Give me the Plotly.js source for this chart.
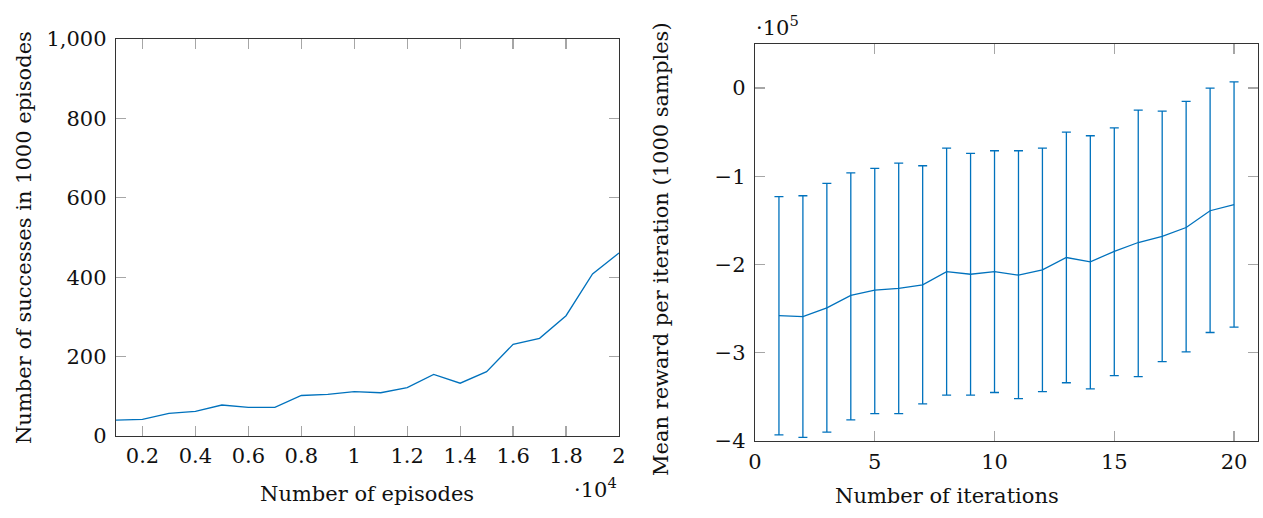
<!DOCTYPE html>
<html>
<head>
<meta charset="utf-8">
<script src="https://cdn.plot.ly/plotly-3.0.1.min.js"></script>
<style>
  html, body { margin: 0; padding: 0; background: #ffffff; }
  #chart { width: 1263px; height: 518px; }
</style>
</head>
<body>
<div id="chart"></div>
<script>
// ---- Left chart data ----
const episodes = [1000, 2000, 3000, 4000, 5000, 6000, 7000, 8000, 9000, 10000,
                  11000, 12000, 13000, 14000, 15000, 16000, 17000, 18000, 19000, 20000];
const successes = [40, 42, 57, 62, 78, 72, 72, 102, 105, 112,
                   109, 122, 155, 133, 162, 231, 246, 303, 408, 461];
const episodeTickVals = [2000, 4000, 6000, 8000, 10000, 12000, 14000, 16000, 18000, 20000];
const episodeTickText = ['0.2', '0.4', '0.6', '0.8', '1', '1.2', '1.4', '1.6', '1.8', '2'];
const successTickVals = [0, 200, 400, 600, 800, 1000];

// ---- Right chart data ----
const iterations = [1, 2, 3, 4, 5, 6, 7, 8, 9, 10, 11, 12, 13, 14, 15, 16, 17, 18, 19, 20];
const meanReward = [-258000, -259000, -249000, -235000, -229000, -227000, -223000, -208000, -211000, -208000,
                    -212000, -206000, -192000, -197000, -185000, -175000, -168000, -158000, -139000, -132000];
const upperReward = [-123000, -122000, -108000, -96000, -91000, -85000, -88000, -68000, -74000, -71000,
                     -71000, -68000, -50000, -54000, -45000, -25000, -26000, -15000, 0, 7000];
const lowerReward = [-393000, -396000, -390000, -376000, -369000, -369000, -358000, -348000, -348000, -345000,
                     -352000, -344000, -334000, -341000, -326000, -327000, -310000, -299000, -277000, -271000];
const rewardTickVals = [-400000, -300000, -200000, -100000, 0];
const rewardTickText = ['\u22124', '\u22123', '\u22122', '\u22121', '0'];
const iterationTickVals = [0, 5, 10, 15, 20];

const W = 1263, H = 518;
const FONT = 'DejaVu Serif, Liberation Serif, serif';
const BLUE = '#0072bd';
const FRAME = '#333333';
const TICK = '#a6a6a6';

const errPlus = upperReward.map((u, i) => u - meanReward[i]);
const errMinus = lowerReward.map((l, i) => meanReward[i] - l);

const traces = [
  {
    x: episodes, y: successes, type: 'scatter', mode: 'lines',
    line: { color: BLUE, width: 1.3 }, xaxis: 'x', yaxis: 'y', hoverinfo: 'skip'
  },
  {
    x: iterations, y: meanReward, type: 'scatter', mode: 'lines',
    line: { color: BLUE, width: 1.3 }, xaxis: 'x2', yaxis: 'y2', hoverinfo: 'skip',
    error_y: { type: 'data', symmetric: false, array: errPlus, arrayminus: errMinus,
               color: BLUE, thickness: 1.3, width: 4.5 }
  }
];

function axisBase() {
  return {
    showgrid: false, zeroline: false, showline: true, linecolor: FRAME, linewidth: 1.3,
    mirror: 'ticks', ticks: 'inside', ticklen: 10, tickwidth: 1.3, tickcolor: TICK,
    tickfont: { family: FONT, size: 21, color: '#111111' }, automargin: false,
    fixedrange: true
  };
}

const layout = {
  width: W, height: H,
  margin: { l: 0, r: 0, t: 0, b: 0 },
  paper_bgcolor: '#ffffff', plot_bgcolor: '#ffffff',
  showlegend: false,
  font: { family: FONT, size: 21, color: '#111111' },
  xaxis: Object.assign(axisBase(), {
    domain: [116 / W, 619 / W], anchor: 'y',
    range: [1000, 20000], tickmode: 'array', tickvals: episodeTickVals, ticktext: episodeTickText,
    ticklabelstandoff: 0
  }),
  yaxis: Object.assign(axisBase(), {
    domain: [(H - 436) / H, (H - 39) / H], anchor: 'x',
    range: [0, 1000], tickmode: 'array', tickvals: successTickVals, tickformat: ',d',
    ticklabelstandoff: 4
  }),
  xaxis2: Object.assign(axisBase(), {
    domain: [755 / W, 1258 / W], anchor: 'y2',
    range: [0, 21], tickmode: 'array', tickvals: iterationTickVals,
    ticklabelstandoff: 1
  }),
  yaxis2: Object.assign(axisBase(), {
    domain: [(H - 441) / H, (H - 44) / H], anchor: 'x2',
    range: [-400000, 50000], tickmode: 'array', tickvals: rewardTickVals, ticktext: rewardTickText,
    ticklabelstandoff: 4
  }),
  annotations: [
    { text: 'Number of successes in 1000 episodes', xref: 'paper', yref: 'paper',
      x: 24 / W, y: 1 - 238 / H, xanchor: 'center', yanchor: 'middle', textangle: -90,
      showarrow: false, font: { family: FONT, size: 21, color: '#111111' } },
    { text: 'Number of episodes', xref: 'paper', yref: 'paper',
      x: 367 / W, y: 1 - 494 / H, xanchor: 'center', yanchor: 'middle',
      showarrow: false, font: { family: FONT, size: 21, color: '#111111' } },
    { text: '\u00b710<sup>4</sup>', xref: 'paper', yref: 'paper',
      x: 595 / W, y: 1 - 488 / H, xanchor: 'center', yanchor: 'middle',
      showarrow: false, font: { family: FONT, size: 21, color: '#111111' } },
    { text: 'Mean reward per iteration (1000 samples)', xref: 'paper', yref: 'paper',
      x: 661 / W, y: 1 - 249 / H, xanchor: 'center', yanchor: 'middle', textangle: -90,
      showarrow: false, font: { family: FONT, size: 21, color: '#111111' } },
    { text: 'Number of iterations', xref: 'paper', yref: 'paper',
      x: 947 / W, y: 1 - 496 / H, xanchor: 'center', yanchor: 'middle',
      showarrow: false, font: { family: FONT, size: 21, color: '#111111' } },
    { text: '\u00b710<sup>5</sup>', xref: 'paper', yref: 'paper',
      x: 777 / W, y: 1 - 26 / H, xanchor: 'center', yanchor: 'middle',
      showarrow: false, font: { family: FONT, size: 21, color: '#111111' } }
  ]
};

Plotly.newPlot('chart', traces, layout, { displayModeBar: false, staticPlot: true });
</script>
</body>
</html>
